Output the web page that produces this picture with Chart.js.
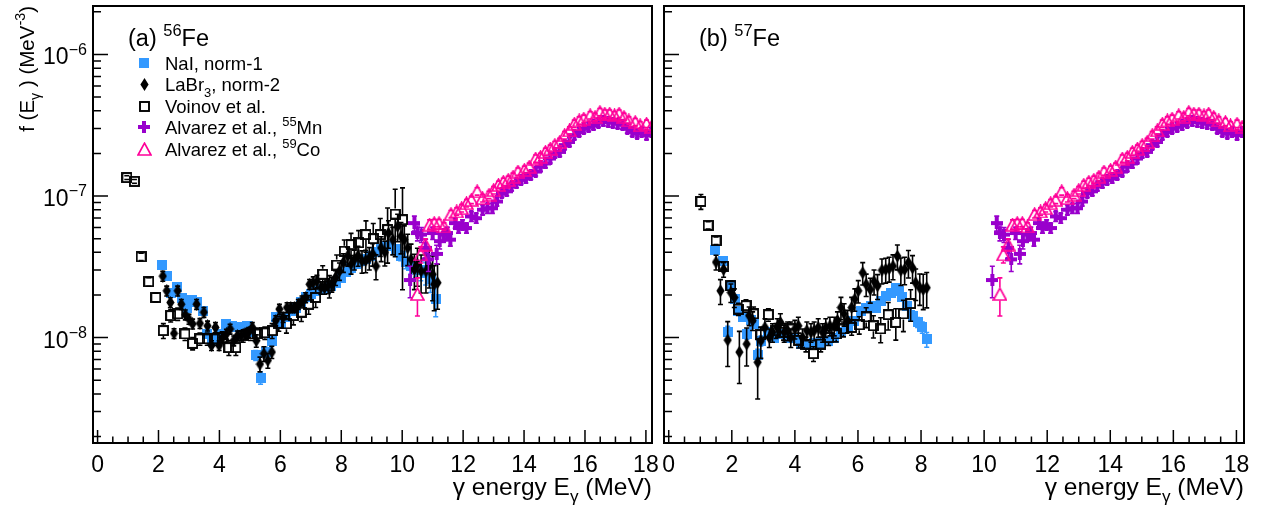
<!DOCTYPE html>
<html>
<head>
<meta charset="utf-8">
<script src="https://cdn.jsdelivr.net/npm/chart.js@4.4.0/dist/chart.umd.min.js"></script>
<style>
  html, body { margin: 0; padding: 0; background: #fff; }
  #wrap { position: relative; width: 1261px; height: 508px; }
  #wrap canvas { position: absolute; top: 0; }
</style>
</head>
<body>
<div id="wrap">
  <canvas id="fe56" width="658" height="508" style="left:0"></canvas>
  <canvas id="fe57" width="603" height="508" style="left:658px"></canvas>
</div>
<script>
// ---- data: E in MeV, f in MeV^-3, err = relative error ----

// (a) 56Fe
var fe56NaiE = [2.10,2.27,2.40,2.62,2.76,2.92,3.09,3.25,3.47,3.58,3.74,3.90,4.07,4.23,4.40,4.56,4.72,4.89,5.05,5.19,5.35,5.52,5.71,5.85,6.03,6.20,6.36,6.52,6.69,6.85,7.01,7.18,7.34,7.50,7.67,7.83,7.99,8.16,8.32,8.48,8.65,8.81,8.97,9.14,9.30,9.46,9.63,9.79,9.95,10.12,10.28,10.44,10.61,10.77,10.93,11.10];
var fe56NaiF = [3.25e-8,2.72e-8,2.08e-8,2.28e-8,1.90e-8,1.63e-8,1.84e-8,1.77e-8,1.55e-8,1.06e-8,9.5e-9,9.8e-9,1.06e-8,1.25e-8,1.21e-8,1.18e-8,1.18e-8,1.21e-8,1.09e-8,7.5e-9,5.2e-9,7.9e-9,9.5e-9,1.39e-8,1.25e-8,1.39e-8,1.55e-8,1.63e-8,1.77e-8,1.92e-8,2.02e-8,2.14e-8,2.19e-8,2.19e-8,2.32e-8,2.44e-8,2.65e-8,2.90e-8,3.11e-8,3.30e-8,3.47e-8,3.60e-8,3.76e-8,4.00e-8,4.20e-8,4.40e-8,4.40e-8,4.20e-8,3.80e-8,3.40e-8,3.20e-8,3.10e-8,3.00e-8,2.87e-8,2.60e-8,1.87e-8];
var fe56NaiErr = [.06,.06,.06,.06,.06,.06,.06,.06,.06,.06,.06,.06,.06,.06,.06,.06,.06,.06,.06,.08,.10,.08,.08,.06,.06,.06,.06,.06,.06,.06,.06,.06,.06,.06,.06,.06,.06,.06,.06,.06,.06,.06,.06,.06,.06,.06,.06,.07,.08,.10,.12,.14,.16,.18,.20,.25];

var fe56LabrE = [2.14,2.27,2.39,2.51,2.63,2.75,2.88,3.00,3.12,3.25,3.36,3.49,3.61,3.74,3.87,3.99,4.10,4.23,4.35,4.47,4.59,4.72,4.84,4.96,5.08,5.21,5.33,5.46,5.59,5.72,5.85,5.97,6.09,6.22,6.34,6.46,6.59,6.71,6.83,6.96,7.08,7.20,7.33,7.45,7.57,7.69,7.81,7.94,8.07,8.21,8.32,8.43,8.55,8.68,8.80,8.92,9.03,9.14,9.31,9.43,9.55,9.69,9.85,9.96,10.07,10.18,10.29,10.40,10.50,10.62,10.78,10.89,11.00,11.05,11.16];
var fe56LabrF = [2.72e-8,2.14e-8,1.77e-8,1.07e-8,2.14e-8,1.72e-8,1.45e-8,1.35e-8,1.25e-8,1.72e-8,1.26e-8,1.51e-8,1.21e-8,8.8e-9,1.18e-8,8.8e-9,1.00e-8,1.06e-8,1.15e-8,9.5e-9,1.03e-8,1.03e-8,1.06e-8,1.09e-8,1.18e-8,9.5e-9,6.5e-9,7.7e-9,6.9e-9,7.9e-9,1.32e-8,1.59e-8,1.39e-8,1.63e-8,1.63e-8,1.63e-8,1.72e-8,1.82e-8,1.92e-8,2.38e-8,2.44e-8,2.50e-8,2.25e-8,2.25e-8,2.32e-8,2.38e-8,2.65e-8,2.95e-8,3.40e-8,3.76e-8,3.30e-8,3.57e-8,3.80e-8,3.47e-8,3.50e-8,3.66e-8,3.90e-8,3.20e-8,4.30e-8,4.00e-8,5.48e-8,4.92e-8,6.10e-8,5.20e-8,4.92e-8,4.30e-8,3.57e-8,3.03e-8,3.29e-8,2.95e-8,2.95e-8,3.20e-8,2.80e-8,2.38e-8,2.44e-8];
var fe56LabrErr = [.08,.08,.08,.08,.08,.08,.08,.08,.08,.08,.08,.08,.08,.08,.08,.08,.08,.08,.08,.08,.08,.08,.08,.08,.08,.10,.12,.12,.12,.10,.08,.08,.08,.08,.08,.08,.08,.08,.08,.08,.10,.10,.10,.10,.12,.12,.12,.14,.15,.15,.15,.16,.16,.18,.18,.18,.18,.20,.20,.20,.22,.22,.22,.25,.25,.25,.28,.28,.30,.30,.30,.30,.35,.35,.35];

var fe56VoinovE = [0.96,1.21,1.43,1.68,1.91,2.16,2.40,2.63,2.87,3.12,3.36,3.60,3.85,4.09,4.31,4.54,4.78,5.02,5.25,5.49,5.73,5.95,6.20,6.43,6.69,6.93,7.16,7.39,7.61,7.85,8.10,8.32,8.57,8.81,9.05,9.28,9.52,9.77,10.01];
var fe56VoinovF = [1.35e-7,1.27e-7,3.72e-8,2.48e-8,1.92e-8,1.12e-8,1.43e-8,1.47e-8,1.06e-8,9.1e-9,9.8e-9,9.8e-9,9.8e-9,1.00e-8,8.5e-9,8.5e-9,1.03e-8,1.06e-8,1.06e-8,1.08e-8,1.12e-8,1.26e-8,1.25e-8,1.43e-8,1.51e-8,1.72e-8,1.92e-8,2.80e-8,2.32e-8,3.25e-8,4.08e-8,4.54e-8,4.67e-8,5.34e-8,5.00e-8,5.34e-8,5.79e-8,7.45e-8,6.80e-8];
var fe56VoinovErr = [.03,.03,.06,.07,.07,.12,.10,.10,.10,.10,.10,.10,.10,.10,.12,.12,.10,.10,.10,.10,.12,.12,.14,.14,.14,.15,.15,.15,.18,.18,.20,.20,.22,.25,.28,.30,.42,.50,.68];

// (b) 57Fe
var fe57NaiE = [1.48,1.71,1.87,1.97,2.10,2.21,2.34,2.48,2.61,2.71,2.82,2.92,3.14,3.35,3.56,3.77,3.98,4.19,4.40,4.61,4.82,5.04,5.25,5.46,5.67,5.88,6.09,6.25,6.41,6.57,6.72,6.88,7.04,7.20,7.31,7.41,7.57,7.73,7.89,8.04,8.18];
var fe57NaiF = [4.19e-8,3.47e-8,1.09e-8,2.32e-8,1.87e-8,1.55e-8,1.39e-8,1.06e-8,1.34e-8,1.25e-8,7.5e-9,9.5e-9,1.09e-8,1.00e-8,1.06e-8,1.00e-8,1.00e-8,9.0e-9,8.8e-9,9.2e-9,9.2e-9,9.5e-9,1.00e-8,1.09e-8,1.18e-8,1.32e-8,1.55e-8,1.63e-8,1.68e-8,1.63e-8,1.82e-8,1.97e-8,2.08e-8,2.25e-8,2.14e-8,1.92e-8,1.68e-8,1.43e-8,1.28e-8,1.18e-8,9.7e-9];
var fe57NaiErr = [.06,.06,.10,.06,.06,.06,.06,.08,.06,.06,.10,.08,.06,.06,.06,.06,.06,.06,.06,.06,.06,.06,.06,.06,.06,.06,.06,.06,.06,.06,.06,.06,.06,.06,.06,.06,.07,.08,.08,.09,.12];

var fe57LabrE = [1.50,1.64,1.74,1.87,1.97,2.08,2.24,2.47,2.55,2.66,2.82,2.92,3.05,3.19,3.29,3.44,3.54,3.66,3.77,3.87,4.00,4.11,4.24,4.38,4.51,4.61,4.74,4.88,4.98,5.11,5.25,5.35,5.46,5.56,5.67,5.80,5.90,6.01,6.15,6.26,6.39,6.51,6.62,6.76,6.88,6.99,7.11,7.25,7.36,7.48,7.60,7.73,7.83,7.96,8.07,8.18];
var fe57LabrF = [3.41e-8,2.14e-8,3.03e-8,9.6e-9,2.08e-8,1.92e-8,7.9e-9,9.0e-9,1.43e-8,1.32e-8,6.7e-9,9.5e-9,1.18e-8,1.00e-8,1.09e-8,1.18e-8,1.28e-8,1.09e-8,1.12e-8,1.00e-8,1.15e-8,1.21e-8,1.00e-8,1.12e-8,1.09e-8,1.12e-8,1.18e-8,1.09e-8,1.18e-8,1.21e-8,1.21e-8,1.32e-8,1.63e-8,1.47e-8,1.32e-8,1.63e-8,1.87e-8,2.14e-8,2.87e-8,2.38e-8,2.19e-8,2.50e-8,2.32e-8,2.99e-8,3.03e-8,3.08e-8,3.20e-8,3.76e-8,2.99e-8,3.03e-8,3.38e-8,3.11e-8,2.44e-8,2.25e-8,2.19e-8,2.25e-8];
var fe57LabrErr = [.12,.20,.12,.35,.15,.15,.40,.30,.15,.15,.45,.25,.15,.15,.15,.15,.15,.15,.15,.15,.15,.15,.15,.15,.15,.15,.15,.15,.15,.15,.15,.15,.18,.18,.18,.18,.18,.18,.18,.18,.20,.20,.20,.20,.20,.20,.20,.20,.22,.22,.22,.22,.25,.25,.28,.28];

var fe57VoinovE = [1.02,1.25,1.50,1.74,1.97,2.21,2.45,2.69,2.92,3.16,3.40,3.64,3.87,4.12,4.35,4.59,4.82,5.07,5.31,5.54,5.80,6.04,6.26,6.49,6.72,6.96,7.20,7.44,7.67];
var fe57VoinovF = [9.15e-8,6.21e-8,4.84e-8,3.20e-8,2.32e-8,1.59e-8,1.68e-8,1.47e-8,1.05e-8,1.45e-8,1.12e-8,1.09e-8,1.15e-8,9.6e-9,9.0e-9,7.7e-9,9.0e-9,1.00e-8,1.06e-8,1.15e-8,1.18e-8,1.23e-8,1.40e-8,1.21e-8,1.15e-8,1.45e-8,1.28e-8,1.47e-8,1.74e-8];
var fe57VoinovErr = [.12,.06,.06,.06,.08,.10,.10,.12,.12,.10,.12,.12,.12,.12,.12,.12,.12,.12,.12,.12,.12,.14,.16,.18,.20,.22,.25,.25,.25];

// Alvarez et al. (shown in both panels)
var mnE = [10.26,10.40,10.50,10.63,10.77,10.86,11.00,11.13,11.23,11.37,11.48,11.58,11.74,11.85,11.98,12.11,12.27,12.43,12.64,12.80,12.96,13.11,13.27,13.43,13.59,13.75,13.90,14.06,14.22,14.38,14.54,14.70,14.86,15.01,15.17,15.33,15.49,15.65,15.81,15.96,16.12,16.28,16.44,16.60,16.76,16.91,17.07,17.23,17.39,17.55,17.71,17.86,18.02,18.18];
var mnF = [2.55e-8,6.44e-8,5.48e-8,5.34e-8,4.30e-8,3.57e-8,5.48e-8,3.90e-8,4.80e-8,5.34e-8,5.48e-8,4.92e-8,6.44e-8,5.94e-8,6.28e-8,5.94e-8,7.18e-8,6.98e-8,8.00e-8,8.20e-8,8.20e-8,9.15e-8,1.05e-7,1.08e-7,1.17e-7,1.23e-7,1.30e-7,1.33e-7,1.41e-7,1.49e-7,1.61e-7,1.70e-7,1.84e-7,2.00e-7,2.05e-7,2.29e-7,2.41e-7,2.69e-7,2.84e-7,2.99e-7,3.08e-7,3.16e-7,3.30e-7,3.37e-7,3.33e-7,3.30e-7,3.24e-7,3.19e-7,2.99e-7,2.84e-7,2.76e-7,2.84e-7,2.69e-7,2.84e-7];
var mnErr = [.25,.12,.12,.12,.15,.18,.10,.15,.12,.10,.10,.10,.08,.08,.08,.08,.08,.08,.08,.08,.08,.07,.07,.07,.07,.07,.07,.07,.07,.07,.07,.07,.07,.07,.07,.07,.07,.07,.07,.07,.07,.07,.07,.07,.07,.07,.07,.07,.07,.07,.07,.07,.07,.07];

var coE = [10.50,10.61,10.76,10.90,11.05,11.21,11.37,11.60,11.79,11.95,12.11,12.27,12.46,12.64,12.85,13.00,13.16,13.32,13.48,13.64,13.80,14.01,14.17,14.38,14.54,14.70,14.86,15.01,15.17,15.33,15.49,15.65,15.81,15.96,16.17,16.33,16.49,16.65,16.81,16.97,17.12,17.28,17.44,17.65,17.81,18.02,18.18];
var coF = [2.03e-8,3.87e-8,4.54e-8,6.28e-8,6.44e-8,6.44e-8,6.10e-8,7.45e-8,7.78e-8,8.20e-8,8.90e-8,9.40e-8,1.08e-7,9.66e-8,1.02e-7,1.10e-7,1.20e-7,1.26e-7,1.30e-7,1.37e-7,1.49e-7,1.53e-7,1.61e-7,1.84e-7,1.89e-7,2.05e-7,2.16e-7,2.29e-7,2.41e-7,2.69e-7,2.91e-7,3.24e-7,3.42e-7,3.52e-7,3.72e-7,3.62e-7,3.92e-7,3.82e-7,3.82e-7,3.72e-7,3.82e-7,3.62e-7,3.42e-7,3.33e-7,3.16e-7,3.24e-7,3.08e-7];
var coErr = [.30,.13,.10,.08,.06,.06,.06,.06,.06,.06,.06,.06,.06,.06,.06,.06,.06,.06,.06,.06,.06,.06,.06,.06,.06,.06,.06,.06,.06,.06,.06,.06,.06,.06,.06,.06,.06,.06,.06,.06,.06,.06,.06,.06,.06,.06,.06];

// axis ticks / labels
var xTickLabels = ['0','2','4','6','8','10','12','14','16','18'];
var yDecades = [1e-9, 1e-8, 1e-7, 1e-6];
var yLabelValues = [1e-8, 1e-7, 1e-6];
var yLabelExp = ['\u22128', '\u22127', '\u22126'];

var NAI_COLOR = '#3399ff';
var MN_COLOR = '#9900cc';
var CO_COLOR = '#ff0099';
var FONT = '"Liberation Sans", Arial, Helvetica, sans-serif';

// ---- marker images (ROOT-like markers) ----
function marker(w, h, paint) {
    var c = document.createElement('canvas');
    c.width = w; c.height = h;
    paint(c.getContext('2d'));
    return c;
}
var naiMark = marker(10, 10, function (g) { g.fillStyle = NAI_COLOR; g.fillRect(0, 0, 10, 10); });
var labrMark = marker(9, 13, function (g) {
    g.fillStyle = '#000';
    g.beginPath(); g.moveTo(4.5, 0); g.lineTo(8.6, 6.5); g.lineTo(4.5, 13); g.lineTo(0.4, 6.5); g.closePath(); g.fill();
});
var voinovMark = marker(11, 11, function (g) { g.strokeStyle = '#000'; g.lineWidth = 1.9; g.strokeRect(1, 1, 9, 9); });
var mnMark = marker(12, 12, function (g) {
    g.fillStyle = MN_COLOR; g.fillRect(0, 4, 12, 4); g.fillRect(4, 0, 4, 12);
});
var coMark = marker(15, 14, function (g) {
    g.strokeStyle = CO_COLOR; g.lineWidth = 1.7;
    g.beginPath(); g.moveTo(7.5, 1.2); g.lineTo(14, 13); g.lineTo(1, 13); g.closePath(); g.stroke();
});

// ---- text with super/subscripts ----
function richWidth(ctx, parts, size) {
    var w = 0;
    parts.forEach(function (p) {
        ctx.font = ((p.sup || p.sub) ? size * 0.7 : size) + 'px ' + FONT;
        w += ctx.measureText(p.t).width;
    });
    return w;
}
function drawRich(ctx, parts, x, y, size, align) {
    var w = richWidth(ctx, parts, size);
    var cx = align === 'right' ? x - w : (align === 'center' ? x - w / 2 : x);
    ctx.textAlign = 'left';
    ctx.textBaseline = 'alphabetic';
    parts.forEach(function (p) {
        var s = (p.sup || p.sub) ? size * 0.7 : size;
        var dy = p.sup ? -size * 0.42 : (p.sub ? size * 0.3 : 0);
        ctx.font = s + 'px ' + FONT;
        ctx.fillText(p.t, cx, y + dy);
        cx += ctx.measureText(p.t).width;
    });
}

// ---- error bars, drawn just under each dataset's markers ----
var errorBars = {
    id: 'errorBars',
    beforeDatasetDraw: function (chart, args) {
        var ds = chart.data.datasets[args.index];
        if (!ds.err) return;
        var ctx = chart.ctx, a = chart.chartArea;
        var xs = chart.scales.x, ys = chart.scales.y;
        ctx.save();
        ctx.beginPath(); ctx.rect(a.left, a.top, a.right - a.left, a.bottom - a.top); ctx.clip();
        ctx.strokeStyle = ds.errColor;
        ctx.lineWidth = 1.6;
        ds.data.forEach(function (p, i) {
            var d = p.y * ds.err[i];
            var px = xs.getPixelForValue(p.x);
            var py = ys.getPixelForValue(p.y);
            var top = ys.getPixelForValue(p.y + d);
            var bot = ys.getPixelForValue(Math.max(p.y - d, ys.min));
            var gap = ds.errGap || 0;
            ctx.beginPath();
            if (py - top > gap) { ctx.moveTo(px, top); ctx.lineTo(px, py - gap); }
            if (bot - py > gap) { ctx.moveTo(px, py + gap); ctx.lineTo(px, bot); }
            ctx.moveTo(px - 2.5, top); ctx.lineTo(px + 2.5, top);
            ctx.moveTo(px - 2.5, bot); ctx.lineTo(px + 2.5, bot);
            ctx.stroke();
        });
        ctx.restore();
    }
};

// ---- ROOT style frame, inward ticks, labels, legend ----
var rootFrame = {
    id: 'rootFrame',
    afterDraw: function (chart, args, opts) {
        var ctx = chart.ctx, a = chart.chartArea;
        var xs = chart.scales.x, ys = chart.scales.y;
        ctx.save();
        ctx.fillStyle = '#000';
        ctx.strokeStyle = '#000';

        // ticks
        ctx.lineWidth = 1.5;
        ctx.beginPath();
        for (var h = 0; h <= 36; h++) {
            var px = xs.getPixelForValue(h / 2);
            var len = (h % 4 === 0) ? 13 : 6.5;
            ctx.moveTo(px, a.bottom); ctx.lineTo(px, a.bottom - len);
        }
        yDecades.forEach(function (d) {
            for (var k = 1; k <= 9; k++) {
                var v = k * d;
                if (v < ys.min || v > ys.max) continue;
                var py = ys.getPixelForValue(v);
                ctx.moveTo(a.left, py); ctx.lineTo(a.left + (k === 1 ? 15 : 8), py);
            }
        });
        ctx.stroke();

        // frame
        ctx.lineWidth = 2;
        ctx.strokeRect(a.left, a.top, a.right - a.left, a.bottom - a.top);

        // x tick labels
        ctx.font = '23px ' + FONT;
        ctx.textAlign = 'center';
        ctx.textBaseline = 'alphabetic';
        xTickLabels.forEach(function (t) {
            ctx.fillText(t, xs.getPixelForValue(Number(t)), 472);
        });

        // y tick labels
        if (opts.yLabels) {
            yLabelValues.forEach(function (v, i) {
                drawRich(ctx, [{t: '10'}, {t: yLabelExp[i], sup: true}], a.left - 6, ys.getPixelForValue(v) + 10, 23, 'right');
            });
            ctx.save();
            ctx.translate(34, a.top);
            ctx.rotate(-Math.PI / 2);
            drawRich(ctx, [{t: 'f (E'}, {t: '\u03b3', sub: true}, {t: ' ) (MeV'}, {t: '-3', sup: true}, {t: ')'}], 0, 0, 20.5, 'right');
            ctx.restore();
        }

        // x title
        drawRich(ctx, [{t: '\u03b3 energy E'}, {t: '\u03b3', sub: true}, {t: ' (MeV)'}], a.right, 495, 24.5, 'right');

        // panel title
        drawRich(ctx, opts.title, opts.titleX, 46, 23.5, 'left');

        // legend
        if (opts.legend) {
            var rows = [63, 84, 106, 127, 149];
            var marks = [naiMark, labrMark, voinovMark, mnMark, coMark];
            var texts = [
                [{t: 'NaI, norm-1'}],
                [{t: 'LaBr'}, {t: '3', sub: true}, {t: ', norm-2'}],
                [{t: 'Voinov et al.'}],
                [{t: 'Alvarez et al., '}, {t: '55', sup: true}, {t: 'Mn'}],
                [{t: 'Alvarez et al., '}, {t: '59', sup: true}, {t: 'Co'}]
            ];
            rows.forEach(function (ry, i) {
                var m = marks[i];
                ctx.drawImage(m, Math.round(144 - m.width / 2), Math.round(ry - m.height / 2));
                drawRich(ctx, texts[i], 165, ry + 7, 18.5, 'left');
            });
        }
        ctx.restore();
    }
};

function series(label, xs, ys, errs, mark, order, color, gap) {
    return {
        label: label,
        data: xs.map(function (v, i) { return {x: v, y: ys[i]}; }),
        err: errs,
        errColor: color,
        errGap: gap,
        pointStyle: mark,
        pointRadius: 5,
        order: order
    };
}

function makePanel(id, xMax, datasets, padding, frameOpts) {
    return new Chart(document.getElementById(id), {
        type: 'scatter',
        data: {datasets: datasets},
        options: {
            responsive: false,
            animation: false,
            devicePixelRatio: 1,
            events: [],
            layout: {padding: padding},
            scales: {
                x: {type: 'linear', min: -0.15, max: xMax, display: false},
                y: {type: 'logarithmic', min: 1.8e-9, max: 2.2e-6, display: false}
            },
            plugins: {
                legend: {display: false},
                tooltip: {enabled: false},
                rootFrame: frameOpts
            }
        },
        plugins: [errorBars, rootFrame]
    });
}

makePanel('fe56', 18.2, [
    series('NaI, norm-1', fe56NaiE, fe56NaiF, fe56NaiErr, naiMark, 5, NAI_COLOR, 0),
    series('LaBr3, norm-2', fe56LabrE, fe56LabrF, fe56LabrErr, labrMark, 4, '#000', 0),
    series('Voinov et al.', fe56VoinovE, fe56VoinovF, fe56VoinovErr, voinovMark, 3, '#000', 5.5),
    series('Alvarez et al., 55Mn', mnE, mnF, mnErr, mnMark, 2, MN_COLOR, 0),
    series('Alvarez et al., 59Co', coE, coF, coErr, coMark, 1, CO_COLOR, 6.5)
], {left: 93, right: 5, top: 3, bottom: 65}, {
    yLabels: true, legend: true, titleX: 128,
    title: [{t: '(a) '}, {t: '56', sup: true}, {t: 'Fe'}]
});

makePanel('fe57', 18.24, [
    series('NaI, norm-1', fe57NaiE, fe57NaiF, fe57NaiErr, naiMark, 5, NAI_COLOR, 0),
    series('LaBr3, norm-2', fe57LabrE, fe57LabrF, fe57LabrErr, labrMark, 4, '#000', 0),
    series('Voinov et al.', fe57VoinovE, fe57VoinovF, fe57VoinovErr, voinovMark, 3, '#000', 5.5),
    series('Alvarez et al., 55Mn', mnE, mnF, mnErr, mnMark, 2, MN_COLOR, 0),
    series('Alvarez et al., 59Co', coE, coF, coErr, coMark, 1, CO_COLOR, 6.5)
], {left: 5, right: 17, top: 3, bottom: 65}, {
    yLabels: false, legend: false, titleX: 41,
    title: [{t: '(b) '}, {t: '57', sup: true}, {t: 'Fe'}]
});
</script>
</body>
</html>
